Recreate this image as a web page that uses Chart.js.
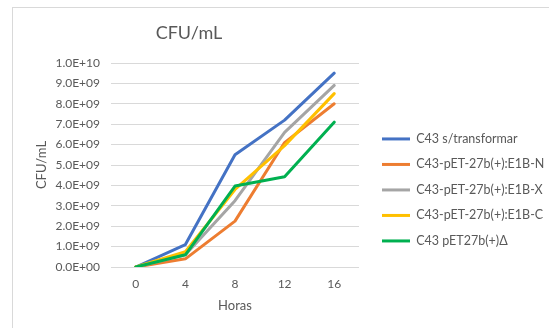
<!DOCTYPE html>
<html>
<head>
<meta charset="utf-8">
<script src="https://cdn.jsdelivr.net/npm/chart.js"></script>
<style>
  html, body { margin: 0; padding: 0; background: #fff; }
  #wrap { position: relative; width: 549px; height: 328px; overflow: hidden; }
  #frame { position: absolute; left: 12px; top: 7px; width: 600px; height: 400px;
           border-left: 1px solid #d9d9d9; border-top: 1px solid #d9d9d9; }
  #box { position: absolute; left: 0; top: 0; width: 549px; height: 328px; }
</style>
</head>
<body>
<div id="wrap">
  <div id="frame"></div>
  <div id="box"><canvas id="cfuChart"></canvas></div>
</div>
<script>
  // hours of sampling
  const horas = ['0', '4', '8', '12', '16'];

  // CFU/mL per strain
  const c43SinTransformar = [0, 1.1e9, 5.5e9, 7.2e9, 9.5e9];
  const c43E1BN = [0, 0.4e9, 2.25e9, 6.1e9, 8.0e9];
  const c43E1BX = [0, 0.6e9, 3.25e9, 6.6e9, 8.9e9];
  const c43E1BC = [0, 0.75e9, 3.8e9, 5.95e9, 8.5e9];
  const c43Delta = [0, 0.6e9, 3.97e9, 4.42e9, 7.1e9];

  const seriesNames = [
    'C43 s/transformar',
    'C43-pET-27b(+):E1B-N',
    'C43-pET-27b(+):E1B-X',
    'C43-pET-27b(+):E1B-C',
    'C43 pET27b(+)\u0394'
  ];
  const seriesColors = ['#4472C4', '#ED7D31', '#A5A5A5', '#FFC000', '#00B050'];
  const seriesData = [c43SinTransformar, c43E1BN, c43E1BX, c43E1BC, c43Delta];

  const FONT = 'Lato, "Open Sans", sans-serif';
  const GREY = '#595959';

  function sci(v) {
    if (v === 0) return '0.0E+00';
    const e = Math.floor(Math.log10(v) + 1e-9);
    const m = v / Math.pow(10, e);
    return m.toFixed(1) + 'E+' + String(e).padStart(2, '0');
  }

  // Excel-style title, placed left of centre like the original
  const chartTitle = {
    id: 'chartTitle',
    afterDraw(chart) {
      const ctx = chart.ctx;
      ctx.save();
      ctx.font = '18px ' + FONT;
      ctx.fillStyle = GREY;
      ctx.textAlign = 'center';
      ctx.textBaseline = 'middle';
      ctx.fillText('CFU/mL', 189, 33);
      ctx.restore();
    }
  };

  const datasets = seriesData.map((d, i) => ({
    label: seriesNames[i],
    data: d,
    borderColor: seriesColors[i],
    backgroundColor: seriesColors[i],
    borderWidth: 3,
    borderCapStyle: 'round',
    borderJoinStyle: 'round',
    pointRadius: 0,
    pointStyle: 'line',
    tension: 0,
    order: seriesData.length - 1 - i   // later series drawn on top, as in Excel
  }));

  new Chart(document.getElementById('cfuChart'), {
    type: 'line',
    data: { labels: horas, datasets: datasets },
    plugins: [chartTitle],
    options: {
      responsive: true,
      maintainAspectRatio: false,
      animation: false,
      layout: { padding: { left: 34, right: 0, top: 63, bottom: 14 } },
      plugins: {
        title: { display: false },
        tooltip: { enabled: false },
        legend: {
          position: 'right',
          align: 'start',
          maxWidth: 180,
          title: { display: true, text: ' ', padding: { top: 34, bottom: 9.5 }, font: { size: 11, family: FONT } },
          labels: {
            usePointStyle: true,
            pointStyleWidth: 28,
            padding: 13,
            color: GREY,
            font: { size: 12.5, family: FONT },
            sort: (a, b) => a.datasetIndex - b.datasetIndex
          }
        }
      },
      scales: {
        x: {
          offset: true,
          grid: { display: false, drawTicks: false },
          border: { display: false },
          ticks: { color: GREY, font: { size: 12, family: FONT }, padding: 10 },
          title: { display: true, text: 'Horas', color: GREY, font: { size: 13, family: FONT }, padding: { top: 0, bottom: 0 } },
          afterFit: s => { s.height = 47; }
        },
        y: {
          min: 0,
          max: 1e10,
          border: { display: false },
          grid: { color: '#d9d9d9', lineWidth: 1, drawTicks: false },
          ticks: { stepSize: 1e9, color: GREY, font: { size: 12, family: FONT }, padding: 11, callback: v => sci(v) },
          title: { display: true, text: 'CFU/mL', color: GREY, font: { size: 13, family: FONT }, padding: { top: 0, bottom: 0 } },
          afterFit: s => { s.width = 77; }
        },
        // empty spacer between plot and legend
        gap: {
          position: 'right',
          display: true,
          grid: { display: false, drawTicks: false },
          border: { display: false },
          ticks: { display: false },
          afterFit: s => { s.width = 10; }
        }
      }
    }
  });
</script>
</body>
</html>
